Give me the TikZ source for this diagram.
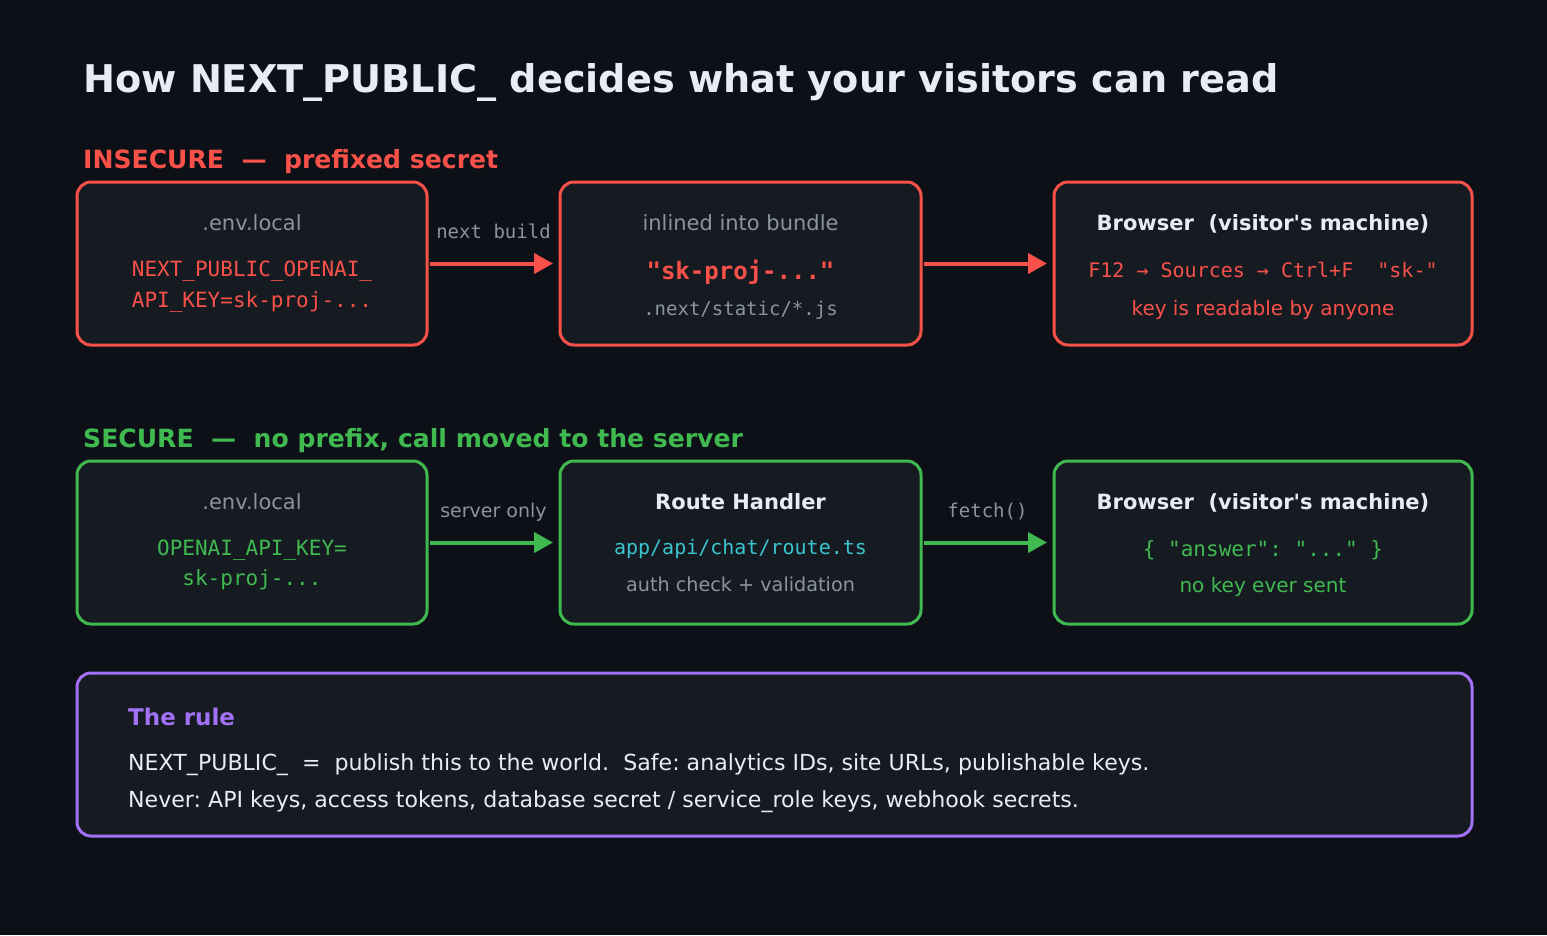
\documentclass[tikz,border=0pt]{standalone}
\usepackage{fontspec}
\setmainfont{DejaVu Sans}
\setmonofont{DejaVu Sans Mono}
\usetikzlibrary{arrows.meta}

\definecolor{pagebg}{HTML}{0D1117}
\definecolor{cardbg}{HTML}{161B22}
\definecolor{warnred}{HTML}{F85149}
\definecolor{okgreen}{HTML}{3FB950}
\definecolor{rulepurple}{HTML}{A371F7}
\definecolor{pathcyan}{HTML}{39C5CF}
\definecolor{mutedgray}{HTML}{8B949E}
\definecolor{brightwhite}{HTML}{E6EDF3}

\newcommand{\px}[1]{\fontsize{#1}{#1}\selectfont}

\tikzset{
  card/.style={draw=#1, line width=3pt, fill=cardbg, rounded corners=14pt,
    minimum height=163pt, inner sep=0pt},
  flow/.style={draw=#1, line width=4pt, -{Triangle[length=19pt,width=20pt]},
    shorten <=1.5pt, shorten >=5.5pt},
  txt/.style={anchor=base, inner sep=0pt, text=#1},
  head/.style={anchor=base west, inner sep=0pt, text=#1, font=\px{25.1}\bfseries},
}

\begin{document}
\frenchspacing
\begin{tikzpicture}[x=1pt,y=-1pt]
\fill[pagebg] (0,0) rectangle (1547,935);
\useasboundingbox (0,0) rectangle (1547,935);

\node[anchor=base west, inner sep=0pt, text=brightwhite, font=\px{38.2}\bfseries] (title) at (83,92)
  {How NEXT\_PUBLIC\_ decides what your visitors can read};

% insecure row
\node[head=warnred] (insecure) at (83,168) {INSECURE\ \ —\ \ prefixed secret};
\node[card=warnred, minimum width=350pt] (envA) at (252,263.5) {};
\node[card=warnred, minimum width=361pt] (bundle) at (740.5,263.5) {};
\node[card=warnred, minimum width=418pt] (browserA) at (1263,263.5) {};

\node[txt=mutedgray, font=\px{21}] (envAt) at (252,230) {.env.local};
\node[txt=warnred, font=\px{21}\ttfamily] (envAk1) at (252,276) {NEXT\_PUBLIC\_OPENAI\_};
\node[txt=warnred, font=\px{21}\ttfamily] (envAk2) at (252,307) {API\_KEY=sk-proj-...};

\node[txt=mutedgray, font=\px{21}] (bundlet) at (740.5,230) {inlined into bundle};
\node[txt=warnred, font=\px{24}\ttfamily\bfseries] (bundlek) at (740.5,279) {"sk-proj-..."};
\node[txt=mutedgray, font=\px{19}\ttfamily] (bundlef) at (740.5,315) {.next/static/*.js};

\node[txt=brightwhite, font=\px{21}\bfseries] (browserAt) at (1263,230) {Browser\ \ (visitor\textquotesingle s machine)};
\node[txt=warnred, font=\px{20}\ttfamily] (browserAk) at (1263,277) {F12 → Sources → Ctrl+F~~"sk-"};
\node[txt=warnred, font=\px{20}] (browserAn) at (1263,315) {key is readable by anyone};

\draw[flow=warnred] (envA.east) -- (bundle.west)
  node[txt=mutedgray, font=\px{19}\ttfamily, midway, yshift=25pt] (buildlbl) {next build};
\draw[flow=warnred] (bundle.east) -- (browserA.west);

% secure row
\node[head=okgreen] (secure) at (83,447) {SECURE\ \ —\ \ no prefix, call moved to the server};
\node[card=okgreen, minimum width=350pt] (envB) at (252,542.5) {};
\node[card=okgreen, minimum width=361pt] (route) at (740.5,542.5) {};
\node[card=okgreen, minimum width=418pt] (browserB) at (1263,542.5) {};

\node[txt=mutedgray, font=\px{21}] (envBt) at (252,509) {.env.local};
\node[txt=okgreen, font=\px{21}\ttfamily] (envBk1) at (252,555) {OPENAI\_API\_KEY=};
\node[txt=okgreen, font=\px{21}\ttfamily] (envBk2) at (252,585) {sk-proj-...};

\node[txt=brightwhite, font=\px{21}\bfseries] (routet) at (740.5,509) {Route Handler};
\node[txt=pathcyan, font=\px{20}\ttfamily] (routef) at (740.5,554) {app/api/chat/route.ts};
\node[txt=mutedgray, font=\px{19.2}] (routen) at (740.5,591) {auth check + validation};

\node[txt=brightwhite, font=\px{21}\bfseries] (browserBt) at (1263,509) {Browser\ \ (visitor\textquotesingle s machine)};
\node[txt=okgreen, font=\px{21}\ttfamily] (browserBk) at (1263,556) {\{~"answer":~"..."~\}};
\node[txt=okgreen, font=\px{20}] (browserBn) at (1263,592) {no key ever sent};

\draw[flow=okgreen] (envB.east) -- (route.west)
  node[txt=mutedgray, font=\px{19}, midway, yshift=25pt] (serverlbl) {server only};
\draw[flow=okgreen] (route.east) -- (browserB.west)
  node[txt=mutedgray, font=\px{19}\ttfamily, midway, yshift=25pt] (fetchlbl) {fetch()};

% the rule
\node[card=rulepurple, minimum width=1395pt] (rule) at (774.5,754.5) {};
\node[anchor=base west, inner sep=0pt, text=rulepurple, font=\px{23}\bfseries] (rulet) at (128,725) {The rule};
\node[anchor=base west, inner sep=0pt, text=brightwhite, font=\px{22.1}] (rule1) at (128,770)
  {NEXT\_PUBLIC\_\ \ =\ \ publish this to the world.\ \ Safe: analytics IDs, site URLs, publishable keys.};
\node[anchor=base west, inner sep=0pt, text=brightwhite, font=\px{22.1}] (rule2) at (128,807)
  {Never: API keys, access tokens, database secret / service\_role keys, webhook secrets.};
\end{tikzpicture}
\end{document}
